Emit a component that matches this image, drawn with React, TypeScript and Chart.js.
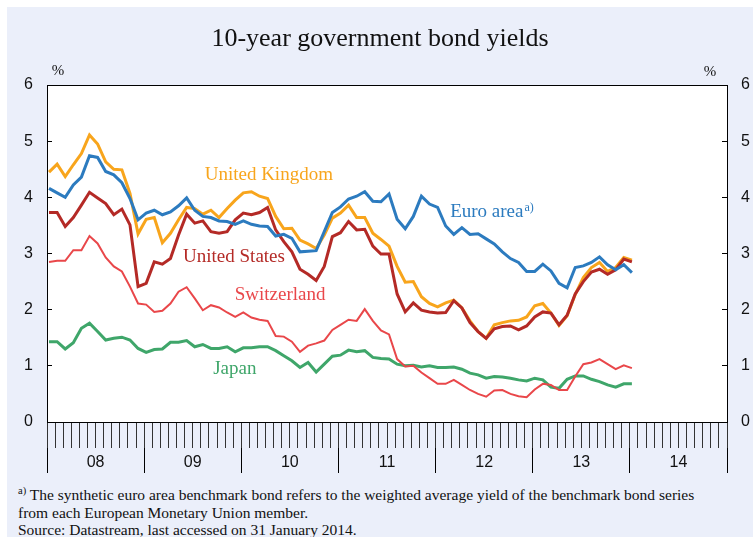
import { useEffect, useRef } from 'react'
import { Chart, registerables } from 'chart.js'

Chart.register(...registerables)

// x axis runs Jan 2008 .. Dec 2014, one slot per month
const years = ['08', '09', '10', '11', '12', '13', '14']
const monthCount = 84

// monthly observations, Jan 2008 .. Jan 2014 (%)
const unitedKingdom = [
  4.45, 4.59, 4.37, 4.58, 4.78, 5.11, 4.95, 4.63, 4.50, 4.49, 4.07, 3.35,
  3.61, 3.64, 3.19, 3.36, 3.60, 3.82, 3.80, 3.70, 3.77, 3.64, 3.80, 3.95,
  4.08, 4.10, 4.02, 3.98, 3.66, 3.44, 3.45, 3.24, 3.17, 3.09, 3.33, 3.63,
  3.72, 3.86, 3.64, 3.64, 3.36, 3.25, 3.13, 2.77, 2.49, 2.50, 2.23, 2.11,
  2.05, 2.12, 2.17, 2.03, 1.80, 1.61, 1.49, 1.73, 1.77, 1.80, 1.81, 1.87,
  2.07, 2.11, 1.94, 1.72, 1.89, 2.27, 2.57, 2.75, 2.84, 2.68, 2.75, 2.93,
  2.88,
]
const euroArea = [
  4.16, 4.08, 4.00, 4.22, 4.36, 4.74, 4.71, 4.46, 4.40, 4.26, 3.98, 3.60,
  3.72, 3.77, 3.69, 3.74, 3.85, 3.99, 3.77, 3.66, 3.64, 3.58, 3.57, 3.52,
  3.58, 3.52, 3.49, 3.48, 3.31, 3.34, 3.27, 3.03, 3.04, 3.05, 3.39, 3.73,
  3.83, 3.97, 4.02, 4.10, 3.93, 3.92, 4.06, 3.61, 3.44, 3.66, 4.02, 3.88,
  3.82, 3.49, 3.34, 3.46, 3.34, 3.35, 3.26, 3.17, 3.03, 2.91, 2.84, 2.68,
  2.68, 2.81, 2.69, 2.47, 2.39, 2.75, 2.78, 2.84, 2.94, 2.80, 2.71, 2.80,
  2.66,
]
const unitedStates = [
  3.73, 3.73, 3.48, 3.64, 3.86, 4.09, 3.99, 3.89, 3.69, 3.79, 3.51, 2.41,
  2.47, 2.85, 2.81, 2.91, 3.33, 3.70, 3.54, 3.58, 3.39, 3.36, 3.39, 3.60,
  3.72, 3.69, 3.73, 3.82, 3.42, 3.21, 3.03, 2.72, 2.63, 2.52, 2.77, 3.30,
  3.37, 3.57, 3.42, 3.43, 3.13, 2.99, 2.99, 2.28, 1.96, 2.12, 1.99, 1.96,
  1.94, 1.95, 2.16, 2.03, 1.77, 1.61, 1.49, 1.66, 1.70, 1.71, 1.64, 1.71,
  1.87, 1.96, 1.94, 1.73, 1.90, 2.28, 2.50, 2.67, 2.72, 2.63, 2.71, 2.90,
  2.85,
]
const switzerland = [
  2.85, 2.87, 2.87, 3.06, 3.06, 3.31, 3.18, 2.93, 2.77, 2.68, 2.41, 2.11,
  2.09, 1.96, 1.98, 2.11, 2.32, 2.40, 2.20, 1.99, 2.08, 2.04, 1.95, 1.87,
  1.95, 1.86, 1.82, 1.80, 1.53, 1.52, 1.43, 1.25, 1.36, 1.40, 1.45, 1.64,
  1.73, 1.82, 1.80, 2.01, 1.80, 1.63, 1.56, 1.12, 0.99, 1.00, 0.88, 0.78,
  0.68, 0.68, 0.75, 0.66, 0.57, 0.50, 0.45, 0.56, 0.57, 0.50, 0.46, 0.44,
  0.58, 0.68, 0.66, 0.57, 0.57, 0.81, 1.03, 1.06, 1.12, 1.03, 0.94, 1.01,
  0.96,
]
const japan = [
  1.43, 1.43, 1.30, 1.41, 1.67, 1.76, 1.61, 1.46, 1.49, 1.51, 1.46, 1.31,
  1.24, 1.29, 1.30, 1.42, 1.42, 1.45, 1.34, 1.38, 1.31, 1.31, 1.34, 1.25,
  1.32, 1.32, 1.34, 1.34, 1.27, 1.18, 1.09, 0.97, 1.06, 0.89, 1.03, 1.17,
  1.19, 1.28, 1.25, 1.27, 1.15, 1.13, 1.12, 1.03, 1.00, 1.01, 0.98, 1.00,
  0.97, 0.97, 0.98, 0.94, 0.87, 0.84, 0.78, 0.81, 0.80, 0.78, 0.75, 0.73,
  0.78, 0.75, 0.62, 0.60, 0.76, 0.82, 0.82, 0.76, 0.72, 0.66, 0.62, 0.68,
  0.68,
]

const SERIF = '"Liberation Serif", "Times New Roman", serif'
const SANS = '"Liberation Sans", Arial, sans-serif'

const COLORS = {
  uk: '#f8a51c',
  euro: '#2c7bbf',
  us: '#b42a26',
  ch: '#e9474a',
  jp: '#3fa66a',
}

// direct labels, anchored in data units (month index, percent)
const seriesLabels = [
  { text: 'United Kingdom', month: 27.4, value: 4.4, color: COLORS.uk, align: 'center', sup: '' },
  { text: 'Euro area', month: 49.8, value: 3.74, color: COLORS.euro, align: 'left', sup: 'a)' },
  { text: 'United States', month: 23.1, value: 2.94, color: COLORS.us, align: 'center', sup: '' },
  { text: 'Switzerland', month: 28.8, value: 2.26, color: COLORS.ch, align: 'center', sup: '' },
  { text: 'Japan', month: 23.2, value: 0.94, color: COLORS.jp, align: 'center', sup: '' },
]

const toPoints = (values: number[]) => values.map((v, i) => ({ x: i + 0.25, y: v }))

const decorPlugin = {
  id: 'decor',
  beforeDraw(chart: Chart) {
    const { ctx, chartArea: a } = chart
    ctx.save()
    ctx.fillStyle = '#ffffff'
    ctx.fillRect(a.left, a.top, a.right - a.left, a.bottom - a.top)
    ctx.restore()
  },
  afterDraw(chart: Chart) {
    const { ctx, chartArea: a } = chart
    const x = chart.scales.x
    const y = chart.scales.y
    ctx.save()
    // top frame line
    ctx.strokeStyle = '#000'
    ctx.lineWidth = 1
    ctx.beginPath()
    ctx.moveTo(a.left, Math.round(a.top) + 0.5)
    ctx.lineTo(a.right, Math.round(a.top) + 0.5)
    ctx.stroke()

    // unit markers
    ctx.fillStyle = '#111'
    ctx.font = `15px ${SERIF}`
    ctx.textBaseline = 'middle'
    ctx.textAlign = 'center'
    ctx.fillText('%', a.left + 11, a.top - 14)
    ctx.fillText('%', a.right - 17, a.top - 13)

    for (const l of seriesLabels) {
      const px = x.getPixelForValue(l.month)
      const py = y.getPixelForValue(l.value)
      ctx.font = `19px ${SERIF}`
      ctx.fillStyle = l.color
      ctx.textAlign = l.align as CanvasTextAlign
      ctx.fillText(l.text, px, py)
      if (l.sup) {
        const w = ctx.measureText(l.text).width
        ctx.font = `12px ${SERIF}`
        ctx.textAlign = 'left'
        ctx.fillText(l.sup, px + w + 1, py - 4)
      }
    }
    ctx.restore()
  },
}

export default function App() {
  const chartRef = useRef<HTMLCanvasElement>(null)

  useEffect(() => {
    if (!chartRef.current) return
    const line = (label: string, values: number[], color: string, width: number) => ({
      label,
      data: toPoints(values),
      borderColor: color,
      backgroundColor: color,
      borderWidth: width,
      pointRadius: 0,
      tension: 0,
      xAxisID: 'x',
      yAxisID: 'y',
    })

    const yTicks = { stepSize: 1, padding: 19, color: '#111', font: { family: SANS, size: 16 } }

    const chart = new Chart(chartRef.current, {
      type: 'line',
      data: {
        datasets: [
          line('Euro area', euroArea, COLORS.euro, 3),
          line('United States', unitedStates, COLORS.us, 3),
          line('United Kingdom', unitedKingdom, COLORS.uk, 3),
          line('Switzerland', switzerland, COLORS.ch, 2),
          line('Japan', japan, COLORS.jp, 3),
        ],
      },
      options: {
        responsive: true,
        maintainAspectRatio: false,
        animation: false,
        layout: { padding: { left: 0, right: 0, top: 0, bottom: 10 } },
        plugins: {
          legend: { display: false },
          tooltip: { enabled: false },
          title: {
            display: true,
            text: '10-year government bond yields',
            color: '#111',
            font: { family: SERIF, size: 26, weight: 'normal' },
            padding: { top: 16.4, bottom: 30.4 },
          },
        },
        scales: {
          x: {
            type: 'linear',
            position: 'bottom',
            min: 0,
            max: monthCount,
            ticks: { display: false, stepSize: 1 },
            afterBuildTicks: (s: any) => {
              s.ticks = Array.from({ length: monthCount + 1 }, (_, i) => ({ value: i }))
            },
            afterFit: (s: any) => { s.height = 26 },
            grid: { drawOnChartArea: false, tickLength: 26, color: '#333', lineWidth: 1 },
            border: { display: true, color: '#000', width: 1 },
          },
          xYear: {
            type: 'category',
            labels: years,
            position: 'bottom',
            offset: true,
            weight: 1,
            afterFit: (s: any) => { s.height = 25 },
            grid: { offset: true, drawOnChartArea: false, tickLength: 25, color: '#000', lineWidth: 1 },
            border: { display: false },
            ticks: { padding: -20, color: '#111', autoSkip: false, maxRotation: 0, font: { family: SANS, size: 16 } },
          },
          y: {
            type: 'linear',
            position: 'left',
            min: 0,
            max: 6,
            ticks: yTicks,
            afterFit: (s: any) => { s.width = 40 },
            grid: { drawOnChartArea: false, tickLength: -5, color: '#000' },
            border: { display: true, color: '#000', width: 1 },
          },
          y2: {
            type: 'linear',
            position: 'right',
            min: 0,
            max: 6,
            ticks: yTicks,
            afterFit: (s: any) => { s.width = 26 },
            grid: { drawOnChartArea: false, tickLength: -5, color: '#000' },
            border: { display: true, color: '#000', width: 1 },
          },
        },
      },
      plugins: [decorPlugin],
    } as any)

    return () => chart.destroy()
  }, [])

  return (
    <div
      style={{
        position: 'fixed',
        left: 7,
        top: 7,
        width: 746,
        height: 530,
        background: '#ebeffa',
        overflow: 'hidden',
      }}
    >
      <div style={{ position: 'absolute', left: 0, top: 0, width: 746, height: 476 }}>
        <canvas ref={chartRef}></canvas>
      </div>
      <div
        style={{
          position: 'absolute',
          left: 11,
          top: 479,
          fontFamily: SERIF,
          fontSize: 15.5,
          lineHeight: '17.5px',
          color: '#111',
          whiteSpace: 'nowrap',
        }}
      >
        <div>
          <sup style={{ fontSize: 10.5, verticalAlign: 'top', lineHeight: '10px' }}>a)</sup> The synthetic euro area
          benchmark bond refers to the weighted average yield of the benchmark bond series
        </div>
        <div>from each European Monetary Union member.</div>
        <div>Source: Datastream, last accessed on 31 January 2014.</div>
      </div>
    </div>
  )
}
